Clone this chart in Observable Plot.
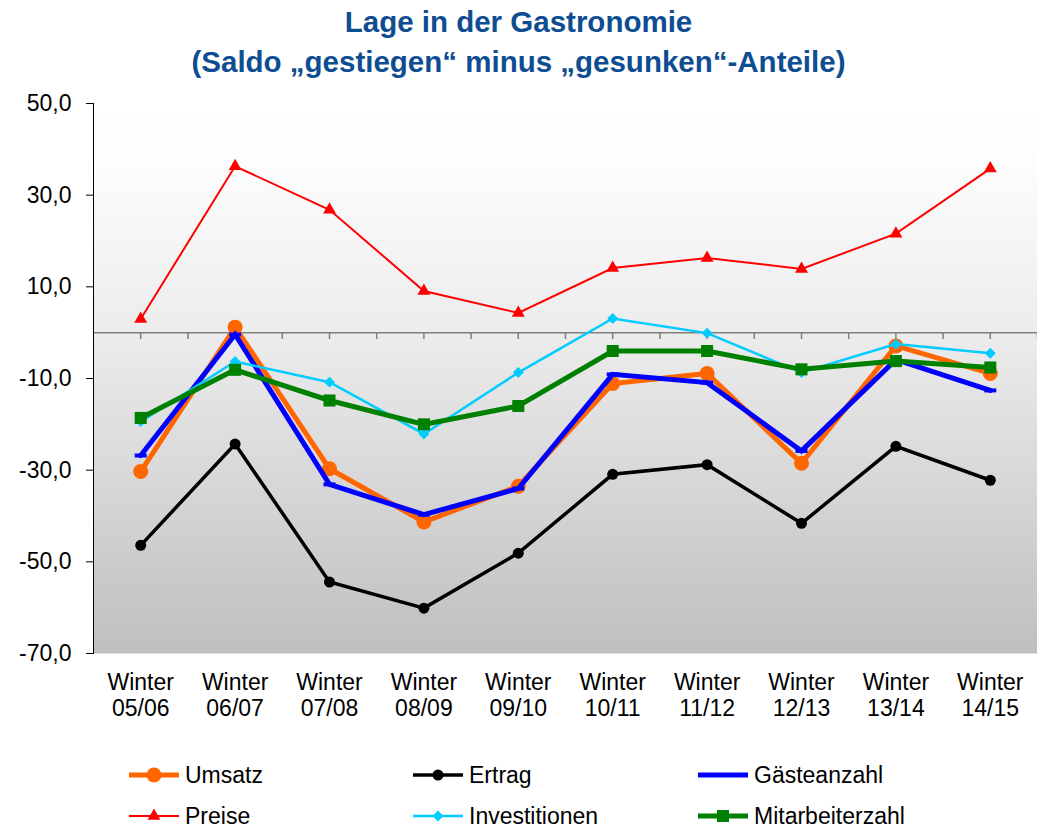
<!DOCTYPE html>
<html><head><meta charset="utf-8">
<script src="https://cdn.jsdelivr.net/npm/d3@7"></script>
<script src="https://cdn.jsdelivr.net/npm/@observablehq/plot@0.6"></script>
<style>
body{margin:0;background:#fff;font-family:"Liberation Sans",Arial,sans-serif;}
#wrap{width:1037px;position:relative;}
#title{height:88px;text-align:center;color:#0e4d92;font-weight:bold;font-size:29.5px;line-height:40px;padding-top:2px;box-sizing:border-box;}
#chart svg{display:block;}
#legend{position:relative;height:84px;}
.item{position:absolute;display:flex;align-items:center;font-size:23px;color:#000;height:30px;white-space:nowrap;}
.item svg{margin-right:5px;}
</style></head><body>
<div id="wrap">
<div id="title">Lage in der Gastronomie<br>(Saldo „gestiegen“ minus „gesunken“-Anteile)</div>
<div id="chart"></div>
<div id="legend"></div>
</div>
<script>
const categories = ["Winter\n05/06","Winter\n06/07","Winter\n07/08","Winter\n08/09","Winter\n09/10","Winter\n10/11","Winter\n11/12","Winter\n12/13","Winter\n13/14","Winter\n14/15"];
const umsatz          = [-30.3, 1.2, -29.7, -41.3, -33.5, -11.1, -8.9, -28.5, -2.9, -8.9];
const ertrag          = [-46.4, -24.3, -54.4, -60.1, -48.1, -30.9, -28.8, -41.6, -24.8, -32.2];
const gaesteanzahl    = [-26.8, -0.4, -33.1, -39.7, -34.0, -9.1, -10.9, -25.8, -5.9, -12.6];
const preise          = [3.0, 36.3, 26.8, 9.1, 4.3, 14.1, 16.3, 13.9, 21.6, 35.8];
const investitionen   = [-19.4, -6.3, -10.8, -22.1, -8.7, 3.1, -0.1, -8.7, -2.5, -4.5];
const mitarbeiterzahl = [-18.6, -8.1, -14.8, -20.0, -16.0, -4.0, -4.0, -8.0, -6.2, -7.6];
const yTicks = [50, 30, 10, -10, -30, -50, -70];

const dash = {draw(ctx){ ctx.rect(-6, -2, 12, 4); }};

const seriesDefs = [
  {name: "Umsatz", values: umsatz, color: "#ff6600", width: 5, symbol: "circle", r: 7.5},
  {name: "Ertrag", values: ertrag, color: "#000000", width: 3.5, symbol: "circle", r: 5.5},
  {name: "Gästeanzahl", values: gaesteanzahl, color: "#0000ff", width: 5, symbol: dash, r: 3},
  {name: "Preise", values: preise, color: "#ff0000", width: 2, symbol: "triangle", r: 4.8},
  {name: "Investitionen", values: investitionen, color: "#00ccff", width: 2.5, symbol: "diamond2", r: 4.9},
  {name: "Mitarbeiterzahl", values: mitarbeiterzahl, color: "#008000", width: 5, symbol: "square", r: 6.8}
];

const fmt = d => d.toFixed(1).replace(".", ",");
const idx = d3.range(categories.length);
const zeroTicks = d3.range(0, categories.length * 2).map(k => k / 2);

const marks = [
  Plot.frame({fill: "url(#bgGrad)", stroke: null}),
  Plot.ruleY([0], {stroke: "#808080", strokeWidth: 1.5}),
  Plot.ruleX(zeroTicks, {x: d => d, y1: 0, y2: -1.5, stroke: "#808080", strokeWidth: 1.5}),
  Plot.frame({anchor: "left", stroke: "#000", strokeWidth: 1}),
  Plot.axisY({ticks: yTicks, tickFormat: fmt, tickSize: 7, tickPadding: 15, fontSize: 23, stroke: "#000", color: "#000", label: null}),
  Plot.axisX({ticks: idx, tickFormat: i => categories[i], tickSize: 0, tickPadding: 19, lineHeight: 1.1, fontSize: 23, label: null})
];
for (const s of seriesDefs) {
  const rows = s.values.map((v, i) => ({i, v}));
  marks.push(Plot.line(rows, {x: "i", y: "v", stroke: s.color, strokeWidth: s.width, strokeLinejoin: "miter", strokeMiterlimit: 4}));
  marks.push(Plot.dot(rows, {x: "i", y: "v", fill: s.color, stroke: "none", symbol: s.symbol, r: s.r}));
}

const chart = Plot.plot({
  width: 1037,
  height: 657,
  marginTop: 15,
  marginBottom: 92,
  marginLeft: 93,
  marginRight: 0,
  style: {fontFamily: "'Liberation Sans', Arial, sans-serif", fontSize: "23px", color: "#000", background: "transparent"},
  x: {type: "linear", domain: [-0.5, categories.length - 0.5], label: null},
  y: {domain: [-70, 50], label: null},
  marks
});
d3.select(chart).insert("defs", ":first-child").html(
  '<linearGradient id="bgGrad" x1="0" y1="0" x2="0" y2="1">' +
  '<stop offset="0" stop-color="#ffffff"/>' +
  '<stop offset="0.1" stop-color="#fdfdfd"/>' +
  '<stop offset="0.42" stop-color="#ececec"/>' +
  '<stop offset="1" stop-color="#bfbfbf"/>' +
  '</linearGradient>');
document.getElementById("chart").appendChild(chart);

// legend
const legend = d3.select("#legend");
const cols = [128, 412, 697];
const rowsY = [15, 56];
seriesDefs.forEach((s, k) => {
  const item = legend.append("div").attr("class", "item")
    .style("left", cols[k % 3] + "px").style("top", rowsY[Math.floor(k / 3)] + "px");
  const svg = item.append("svg").attr("width", 52).attr("height", 30);
  svg.append("line").attr("x1", 1).attr("x2", 51).attr("y1", 15).attr("y2", 15)
    .attr("stroke", s.color).attr("stroke-width", s.width);
  if (s.symbol !== dash) {
    const sym = {circle: d3.symbolCircle, triangle: d3.symbolTriangle, diamond2: d3.symbolDiamond2, square: d3.symbolSquare}[s.symbol];
    svg.append("path").attr("transform", "translate(26,15)")
      .attr("d", d3.symbol(sym, Math.PI * s.r * s.r)()).attr("fill", s.color);
  }
  item.append("span").text(s.name);
});
</script>
</body></html>
